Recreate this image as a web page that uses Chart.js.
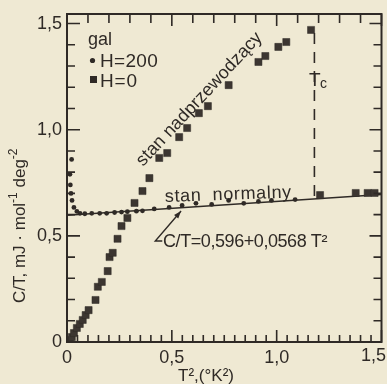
<!DOCTYPE html>
<html>
<head>
<meta charset="utf-8">
<script src="https://cdn.jsdelivr.net/npm/chart.js@4.4.1/dist/chart.umd.min.js"></script>
<style>
  body { margin: 0; background: #efe9d3; }
  canvas { display: block; }
</style>
</head>
<body>
<canvas id="wykres" width="387" height="384"></canvas>
<script>
// etykiety osi
const xTickLabels = ['0', '0,5', '1,0', '1,5'];
const yTickLabels = ['0', '0,5', '1,0', '1,5'];

// H=200 (kolka)
const h200X = [0.022, 0.014, 0.016, 0.019, 0.024, 0.033, 0.047, 0.062, 0.085, 0.118, 0.156, 0.189, 0.227, 0.26,
  0.288, 0.331, 0.36, 0.416, 0.487, 0.549, 0.615, 0.69, 0.771, 0.843, 0.913, 0.975, 1.088];
const h200Y = [0.86, 0.79, 0.74, 0.70, 0.667, 0.634, 0.615, 0.606, 0.604, 0.606, 0.606, 0.606, 0.61, 0.612,
  0.614, 0.616, 0.618, 0.627, 0.634, 0.643, 0.653, 0.648, 0.667, 0.653, 0.662, 0.667, 0.671];

// H=0 (kwadraty)
const h0X = [0.014, 0.023, 0.033, 0.047, 0.061, 0.075, 0.089, 0.103, 0.136, 0.147, 0.166, 0.194, 0.203, 0.218,
  0.241, 0.26, 0.288, 0.322, 0.36, 0.393, 0.44, 0.478, 0.535, 0.573, 0.629, 0.672, 0.771, 0.913, 0.946, 1.008,
  1.046, 1.164, 1.207, 1.377, 1.434, 1.467];
const h0Y = [0.009, 0.023, 0.042, 0.066, 0.085, 0.104, 0.127, 0.15, 0.198, 0.26, 0.283, 0.334, 0.4, 0.42,
  0.486, 0.546, 0.584, 0.655, 0.711, 0.772, 0.867, 0.89, 0.965, 1.008, 1.078, 1.111, 1.21, 1.319, 1.347, 1.39,
  1.413, 1.47, 0.692, 0.702, 0.702, 0.702];

// prosta stanu normalnego i linia Tc
const fitX = [0, 1.5];
const fitY = [0.597, 0.695];
const tcX = [1.18, 1.18];
const tcY = [0.688, 1.455];

const ink = '#2f2a26';
const paper = '#efe9d3';
const font = '"Liberation Sans", Arial, sans-serif';

function pary(xs, ys) {
  return xs.map((x, i) => ({ x: x, y: ys[i] }));
}

// tekst rozciagniety do zadanej szerokosci (odstepy miedzy literami)
function tekst(ctx, txt, x, y, width) {
  ctx.letterSpacing = '0px';
  let w = ctx.measureText(txt).width;
  if (width) ctx.letterSpacing = ((width - w) / txt.length) + 'px';
  ctx.fillText(txt, x, y);
  ctx.letterSpacing = '0px';
}

const dekoracje = {
  id: 'dekoracje',
  beforeDraw(chart) {
    let ctx = chart.ctx;
    ctx.save();
    ctx.fillStyle = paper;
    ctx.fillRect(0, 0, chart.width, chart.height);
    ctx.restore();
  },
  afterDraw(chart) {
    let ctx = chart.ctx;
    let a = chart.chartArea;
    let sx = chart.scales.x;
    let sy = chart.scales.y;
    ctx.save();
    ctx.strokeStyle = ink;
    ctx.fillStyle = ink;

    // ramka
    ctx.lineWidth = 2;
    ctx.strokeRect(a.left, a.top, a.right - a.left, a.bottom - a.top);

    // znaczniki do srodka
    ctx.lineWidth = 1.6;
    ctx.beginPath();
    sx.ticks.forEach(t => {
      let k = Math.round(t.value * 20);
      let px = sx.getPixelForValue(t.value);
      let dl = k % 10 === 0 ? 12 : 7;
      ctx.moveTo(px, a.bottom); ctx.lineTo(px, a.bottom - dl);
      if (k % 2 === 0) {
        ctx.moveTo(px, a.top); ctx.lineTo(px, a.top + (k % 10 === 0 ? 12 : 9));
      }
    });
    sy.ticks.forEach(t => {
      let k = Math.round(t.value * 10);
      let py = sy.getPixelForValue(t.value);
      ctx.moveTo(a.left, py); ctx.lineTo(a.left + (k % 5 === 0 ? 13 : 8), py);
      ctx.moveTo(a.right, py); ctx.lineTo(a.right - (k % 5 === 0 ? 12 : 8), py);
    });
    ctx.stroke();

    // ostatnia etykieta osi x (przesunieta, zeby sie zmiescila)
    ctx.font = '18px ' + font;
    ctx.textAlign = 'center';
    ctx.textBaseline = 'top';
    ctx.fillText(xTickLabels[3], sx.getPixelForValue(1.5) - 8, a.bottom + 5);

    // legenda
    ctx.textAlign = 'left';
    ctx.textBaseline = 'alphabetic';
    ctx.font = '18px ' + font;
    ctx.fillText('gal', 88, 45);
    ctx.beginPath();
    ctx.arc(92.5, 60.5, 2.6, 0, Math.PI * 2);
    ctx.fill();
    ctx.font = '19px ' + font;
    tekst(ctx, 'H=200', 100, 67, 58);
    ctx.fillRect(90, 76, 7, 7);
    tekst(ctx, 'H=0', 100, 87, 38);

    // Tc
    ctx.font = '19px ' + font;
    ctx.fillText('T', 309, 86);
    ctx.font = '14px ' + font;
    ctx.fillText('c', 320, 88);

    // stan nadprzewodzacy
    ctx.save();
    ctx.translate(143, 167);
    ctx.rotate(-47 * Math.PI / 180);
    ctx.font = '18px ' + font;
    tekst(ctx, 'stan nadprzewodzący', 0, 0, 176);
    ctx.restore();

    // stan normalny
    ctx.save();
    ctx.translate(165, 202);
    ctx.rotate(-0.035);
    ctx.font = '18px ' + font;
    tekst(ctx, 'stan  normalny', 0, 0, 127);
    ctx.restore();

    // rownanie i strzalka
    ctx.font = '18px ' + font;
    tekst(ctx, 'C/T=0,596+0,0568 T²', 163, 247, 164);
    let x0 = sx.getPixelForValue(0.421), y0 = sy.getPixelForValue(0.476);
    let x1 = sx.getPixelForValue(0.544), y1 = sy.getPixelForValue(0.617);
    ctx.lineWidth = 1.4;
    ctx.beginPath();
    ctx.moveTo(x0 + 7, y0); ctx.lineTo(x0, y0); ctx.lineTo(x1, y1);
    ctx.stroke();
    let kat = Math.atan2(y1 - y0, x1 - x0);
    ctx.beginPath();
    ctx.moveTo(x1, y1);
    ctx.lineTo(x1 - 8 * Math.cos(kat - 0.35), y1 - 8 * Math.sin(kat - 0.35));
    ctx.lineTo(x1 - 8 * Math.cos(kat + 0.35), y1 - 8 * Math.sin(kat + 0.35));
    ctx.closePath();
    ctx.fill();

    // tytul osi y
    ctx.save();
    ctx.translate(25, 303);
    ctx.rotate(-Math.PI / 2);
    let czesci = [['C/T, mJ · mol', 0], ['-1', 1], [' deg', 0], ['-2', 1]];
    let x = 0;
    czesci.forEach(c => {
      ctx.font = (c[1] ? '12px ' : '17px ') + font;
      ctx.fillText(c[0], x, c[1] ? -8 : 0);
      x += ctx.measureText(c[0]).width;
    });
    ctx.restore();

    // tytul osi x
    ctx.font = '17px ' + font;
    tekst(ctx, 'T²,(°K²)', 178, 381, 56);

    ctx.restore();
  }
};

let myChart = new Chart(document.getElementById('wykres'), {
  type: 'scatter',
  data: {
    datasets: [
      {
        label: 'H=200',
        data: pary(h200X, h200Y),
        pointStyle: 'circle',
        pointRadius: 2.4,
        backgroundColor: ink,
        borderColor: ink,
        borderWidth: 0
      },
      {
        label: 'H=0',
        data: pary(h0X, h0Y),
        pointStyle: 'rect',
        pointRadius: 5,
        backgroundColor: '#3c3631',
        borderColor: ink,
        borderWidth: 0.5
      },
      {
        label: 'fit',
        data: pary(fitX, fitY),
        showLine: true,
        pointRadius: 0,
        borderColor: ink,
        borderWidth: 1.6
      },
      {
        label: 'Tc',
        data: pary(tcX, tcY),
        showLine: true,
        pointRadius: 0,
        borderColor: ink,
        borderWidth: 1.6,
        borderDash: [11, 8]
      }
    ]
  },
  options: {
    responsive: false,
    animation: false,
    devicePixelRatio: 1,
    layout: { padding: { top: 14, right: 3, left: 0, bottom: 0 } },
    plugins: {
      legend: { display: false },
      tooltip: { enabled: false }
    },
    scales: {
      x: {
        type: 'linear',
        min: 0,
        max: 1.5,
        grid: { display: false, drawTicks: false },
        border: { display: false },
        ticks: {
          stepSize: 0.05,
          autoSkip: false,
          maxRotation: 0,
          includeBounds: false,
          padding: 5,
          color: ink,
          font: { family: font, size: 18 },
          callback: function (v) {
            let k = Math.round(v * 20);
            if (k % 10 !== 0 || k === 30) return '';
            return xTickLabels[k / 10];
          }
        },
        afterFit: function (s) {
          s.height = 42;
          s.paddingLeft = 0;
          s.paddingRight = 0;
        }
      },
      y: {
        min: 0,
        max: 1.545,
        grid: { display: false, drawTicks: false },
        border: { display: false },
        ticks: {
          stepSize: 0.1,
          autoSkip: false,
          includeBounds: false,
          padding: 5,
          color: ink,
          font: { family: font, size: 18 },
          callback: function (v) {
            let k = Math.round(v * 10);
            if (k % 5 !== 0) return '';
            return yTickLabels[k / 5];
          }
        },
        afterFit: function (s) {
          s.width = 67;
          s.paddingTop = 0;
          s.paddingBottom = 0;
        }
      }
    }
  },
  plugins: [dekoracje]
});
</script>
</body>
</html>
